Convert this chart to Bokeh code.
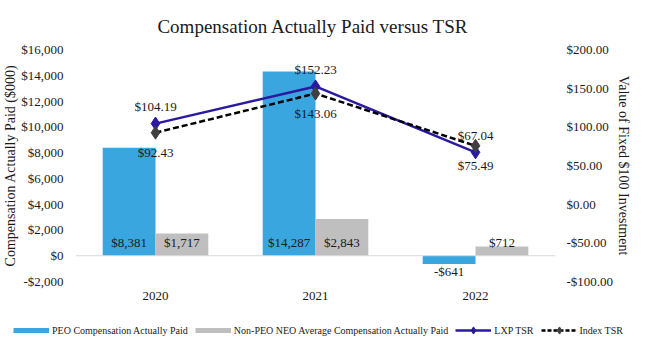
from bokeh.plotting import figure
from bokeh.models import (ColumnDataSource, Range1d, LinearAxis, FactorRange, Span,
                          Legend, LegendItem, NumeralTickFormatter, FixedTicker)
from bokeh.transform import dodge
from bokeh.core.properties import value
from bokeh.embed import file_html
from bokeh.resources import INLINE

years = ["2020", "2021", "2022"]
peo_cap = [8381, 14287, -641]
neo_cap = [1717, 2843, 712]
lxp_tsr = [104.19, 152.23, 67.04]
index_tsr = [92.43, 143.06, 75.49]
peo_labels = ["$8,381", "$14,287", "-$641"]
neo_labels = ["$1,717", "$2,843", "$712"]
lxp_labels = ["$104.19", "$152.23", "$67.04"]
index_labels = ["$92.43", "$143.06", "$75.49"]
left_ticks = [-2000, 0, 2000, 4000, 6000, 8000, 10000, 12000, 14000, 16000]
right_ticks = [-100, -50, 0, 50, 100, 150, 200]
series_names = ["PEO Compensation Actually Paid",
                "Non-PEO NEO Average Compensation Actually Paid",
                "LXP TSR", "Index TSR"]

FONT = "Liberation Serif"
TXT = "#1a1a1a"
BLUE = "#3AA6E0"
GRAY = "#BFBFBF"
NAVY = "#2A1A9F"

src = ColumnDataSource(dict(
    year=years, peo=peo_cap, neo=neo_cap, lxp=lxp_tsr, idx=index_tsr,
    peo_lab=peo_labels, neo_lab=neo_labels, lxp_lab=lxp_labels, idx_lab=index_labels,
    peo_ly=[0 if v >= 0 else v for v in peo_cap],
    peo_off=[-13 if v >= 0 else 8 for v in peo_cap],
    neo_ly=[0 if v >= 0 else v for v in neo_cap],
    neo_off=[-13 if v >= 0 else 8 for v in neo_cap],
))

p = figure(width=634, height=310, output_backend="svg", toolbar_location=None,
           x_range=FactorRange(factors=years, range_padding=0),
           y_range=Range1d(-2000, 16000),
           min_border_left=72, min_border_right=77, min_border_top=47, min_border_bottom=29)
p.extra_y_ranges = {"tsr": Range1d(-100, 200)}
p.xgrid.visible = False
p.ygrid.visible = False
p.outline_line_color = None
p.background_fill_color = "white"
p.border_fill_color = "white"

p.title.text = "Compensation Actually  Paid versus TSR"
p.title.align = "center"
p.title.text_font = FONT
p.title.text_font_size = "19px"
p.title.text_font_style = "normal"
p.title.text_color = TXT
p.title.standoff = 26

# axes
yl = p.yaxis[0]
yl.ticker = FixedTicker(ticks=left_ticks)
yl.formatter = NumeralTickFormatter(format="$0,0")
yl.axis_label = "Compensation Actually Paid ($000)"
yr = LinearAxis(y_range_name="tsr", ticker=FixedTicker(ticks=right_ticks),
                formatter=NumeralTickFormatter(format="$0.00"),
                axis_label="Value of Fixed $100 Investment")
p.add_layout(yr, "right")
for ax in (yl, yr, p.xaxis[0]):
    ax.axis_line_color = None
    ax.major_tick_line_color = None
    ax.minor_tick_line_color = None
    ax.major_tick_out = 0
    ax.major_tick_in = 0
    ax.minor_tick_out = 0
    ax.minor_tick_in = 0
    ax.major_label_text_font = FONT
    ax.major_label_text_font_size = "13px"
    ax.major_label_text_color = TXT
for ax in (yl, yr):
    ax.axis_label_text_font = FONT
    ax.axis_label_text_font_size = "14px"
    ax.axis_label_text_font_style = "normal"
    ax.axis_label_text_color = TXT
    ax.axis_label_standoff = 0
yl.major_label_standoff = 12
yr.major_label_standoff = 11
p.xaxis[0].major_label_standoff = 10

# bars
bw = 0.33
p.vbar(x=dodge("year", -bw / 2, range=p.x_range), top="peo", width=bw, source=src,
       fill_color=BLUE, line_color=None)
p.vbar(x=dodge("year", bw / 2, range=p.x_range), top="neo", width=bw, source=src,
       fill_color=GRAY, line_color=None)
p.add_layout(Span(location=0, dimension="width", line_color="#D9D9D9", line_width=1))

p.text(x=dodge("year", -bw / 2, range=p.x_range), y="peo_ly", text="peo_lab", y_offset="peo_off",
       source=src, text_align="center", text_baseline="middle", text_font=value(FONT),
       text_font_size="13px", text_color=TXT)
p.text(x=dodge("year", bw / 2, range=p.x_range), y="neo_ly", text="neo_lab", y_offset="neo_off",
       source=src, text_align="center", text_baseline="middle", text_font=value(FONT),
       text_font_size="13px", text_color=TXT)

# TSR lines
p.line(x="year", y="lxp", source=src, y_range_name="tsr", line_color=NAVY, line_width=2.5)
p.scatter(x="year", y="lxp", source=src, y_range_name="tsr", marker="diamond", size=13,
          fill_color=NAVY, line_color=NAVY)
p.line(x="year", y="idx", source=src, y_range_name="tsr", line_color="black",
       line_width=2.5, line_dash="6 3")
p.scatter(x="year", y="idx", source=src, y_range_name="tsr", marker="diamond", size=13,
          fill_color="#404040", line_color="#404040")
p.text(x="year", y="lxp", text="lxp_lab", source=src, y_range_name="tsr", y_offset=-17,
       text_align="center", text_baseline="middle", text_font=value(FONT),
       text_font_size="13px", text_color=TXT)
p.text(x="year", y="idx", text="idx_lab", source=src, y_range_name="tsr", y_offset=20,
       text_align="center", text_baseline="middle", text_font=value(FONT),
       text_font_size="13px", text_color=TXT)

# legend strip: separate root figure (full-width frame, so the legend is not clipped)
lg = figure(width=634, height=32, output_backend="svg", toolbar_location=None,
            x_range=Range1d(0, 1), y_range=Range1d(0, 1),
            x_axis_type=None, y_axis_type=None,
            min_border_left=0, min_border_right=0, min_border_top=0, min_border_bottom=0)
lg.xgrid.visible = False
lg.ygrid.visible = False
lg.outline_line_color = None
# proxy renderers (one point each, outside the visible range) so the legend draws glyphs
off = ColumnDataSource(dict(x=[-5], y=[-5]))
r_peo = lg.line(x="x", y="y", source=off, line_color=BLUE, line_width=5)
r_neo = lg.line(x="x", y="y", source=off, line_color=GRAY, line_width=5)
r_lxp_l = lg.line(x="x", y="y", source=off, line_color=NAVY, line_width=2.5)
r_lxp_m = lg.scatter(x="x", y="y", source=off, marker="diamond", fill_color=NAVY, line_color=NAVY)
r_idx_l = lg.line(x="x", y="y", source=off, line_color="black", line_width=2.5, line_dash="4 2")
r_idx_m = lg.scatter(x="x", y="y", source=off, marker="diamond", fill_color="#404040",
                     line_color="#404040")

legend = Legend(items=[
    LegendItem(label=series_names[0], renderers=[r_peo]),
    LegendItem(label=series_names[1], renderers=[r_neo]),
    LegendItem(label=series_names[2], renderers=[r_lxp_l, r_lxp_m]),
    LegendItem(label=series_names[3], renderers=[r_idx_l, r_idx_m]),
], orientation="horizontal", location=(13, 3), padding=0, margin=0, spacing=7,
    glyph_width=36, glyph_height=18, label_standoff=3, label_height=18,
    label_text_font=FONT, label_text_font_size="10px", label_text_color=TXT,
    border_line_color=None, background_fill_alpha=0)
lg.add_layout(legend, "center")

open("out.html", "w").write(file_html([p, lg], INLINE))
